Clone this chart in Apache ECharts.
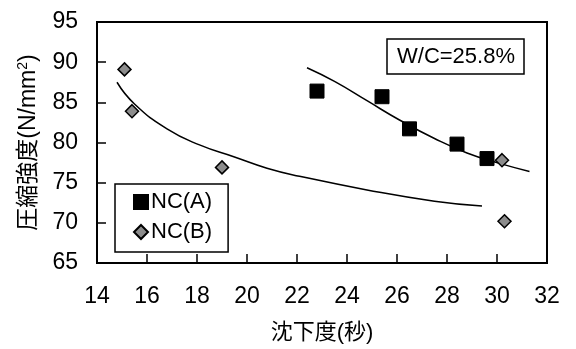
<!DOCTYPE html>
<html>
<head>
<meta charset="utf-8">
<script src="https://cdn.jsdelivr.net/npm/echarts@6/dist/echarts.min.js"></script>
<style>html,body{margin:0;padding:0;background:#fff}#c{width:576px;height:349px}</style>
</head>
<body>
<div id="c"></div>
<script>
const xTicks = [14, 16, 18, 20, 22, 24, 26, 28, 30, 32];
const yTicks = [65, 70, 75, 80, 85, 90, 95];
const seriesNames = ['NC(A)', 'NC(B)'];
const ncA_x = [22.8, 25.4, 26.5, 28.4, 29.6];
const ncA_y = [86.4, 85.7, 81.7, 79.8, 78.0];
const ncB_x = [15.1, 15.4, 19.0, 30.2, 30.3];
const ncB_y = [89.1, 83.9, 76.9, 77.8, 70.2];
const trendA_x = [22.4, 23.5, 24.8, 26.1, 27.5, 28.8, 30.1, 31.3];
const trendA_y = [89.3, 87.6, 85.2, 82.8, 80.5, 78.7, 77.4, 76.4];
const trendB_x = [14.8, 15.5, 16.8, 18.1, 19.5, 20.8, 22.1, 24.8, 27.5, 29.4];
const trendB_y = [87.5, 84.8, 81.7, 79.7, 78.2, 76.8, 75.8, 74.1, 72.7, 72.1];
const wcLabel = 'W/C=25.8%';

const zip = (xs, ys) => xs.map((x, i) => [x, ys[i]]);
const FF = '"Liberation Sans", Arial, "Noto Sans CJK JP", sans-serif';

const chart = echarts.init(document.getElementById('c'), null, {renderer: 'canvas'});
chart.setOption({
  animation: false,
  backgroundColor: '#fff',
  textStyle: {fontFamily: FF, color: '#000'},
  grid: {left: 97, right: 29, top: 22, bottom: 83, show: true, borderColor: '#000', borderWidth: 2, backgroundColor: 'transparent'},
  title: {
    text: wcLabel, left: 387, top: 39,
    borderColor: '#000', borderWidth: 1.5, padding: [7, 9, 6, 10],
    textStyle: {fontFamily: FF, fontSize: 22, fontWeight: 'normal', color: '#000'}
  },
  legend: {
    data: seriesNames,
    orient: 'vertical', left: 115, top: 184,
    borderColor: '#000', borderWidth: 1.5, padding: [6, 16, 8, 18],
    itemWidth: 14, itemHeight: 14, itemGap: 6,
    textStyle: {fontFamily: FF, fontSize: 22, color: '#000', lineHeight: 24, padding: [0, 0, 0, -2]}
  },
  xAxis: {
    type: 'value', min: xTicks[0], max: xTicks[xTicks.length - 1], interval: 2,
    name: '沈下度(秒)', nameLocation: 'middle', nameGap: 59,
    nameTextStyle: {fontFamily: FF, fontSize: 22, color: '#000'},
    axisLine: {show: true, lineStyle: {color: '#000', width: 2}},
    axisTick: {show: true, inside: true, length: 9, lineStyle: {color: '#000', width: 1.5}},
    axisLabel: {fontFamily: FF, fontSize: 23, color: '#000', margin: 22},
    splitLine: {show: false}
  },
  yAxis: {
    type: 'value', min: yTicks[0], max: yTicks[yTicks.length - 1], interval: 5,
    name: '{a|圧縮強度(N/mm}{s|2}{a|)}', nameLocation: 'middle', nameGap: 55,
    nameTextStyle: {
      rich: {
        a: {fontFamily: FF, fontSize: 23, color: '#000'},
        s: {fontFamily: FF, fontSize: 14, color: '#000', padding: [0, 0, 12, 0]}
      }
    },
    axisLine: {show: true, lineStyle: {color: '#000', width: 2}},
    axisTick: {show: true, inside: true, length: 9, lineStyle: {color: '#000', width: 1.5}},
    axisLabel: {fontFamily: FF, fontSize: 23, color: '#000', margin: 19},
    splitLine: {show: false}
  },
  series: [
    {
      name: 'trendA', type: 'line', data: zip(trendA_x, trendA_y), smooth: true,
      showSymbol: false, symbol: 'none', lineStyle: {color: '#000', width: 1.5}, z: 2
    },
    {
      name: 'trendB', type: 'line', data: zip(trendB_x, trendB_y), smooth: true,
      showSymbol: false, symbol: 'none', lineStyle: {color: '#000', width: 1.5}, z: 2
    },
    {
      name: seriesNames[0], type: 'scatter', data: zip(ncA_x, ncA_y),
      symbol: 'rect', symbolSize: 14,
      itemStyle: {color: '#000', borderColor: '#000', borderWidth: 1, opacity: 1}, z: 3
    },
    {
      name: seriesNames[1], type: 'scatter', data: zip(ncB_x, ncB_y),
      symbol: 'diamond', symbolSize: 13,
      itemStyle: {color: '#8c8c8c', borderColor: '#000', borderWidth: 1.5, opacity: 1}, z: 4
    }
  ]
});
</script>
</body>
</html>
